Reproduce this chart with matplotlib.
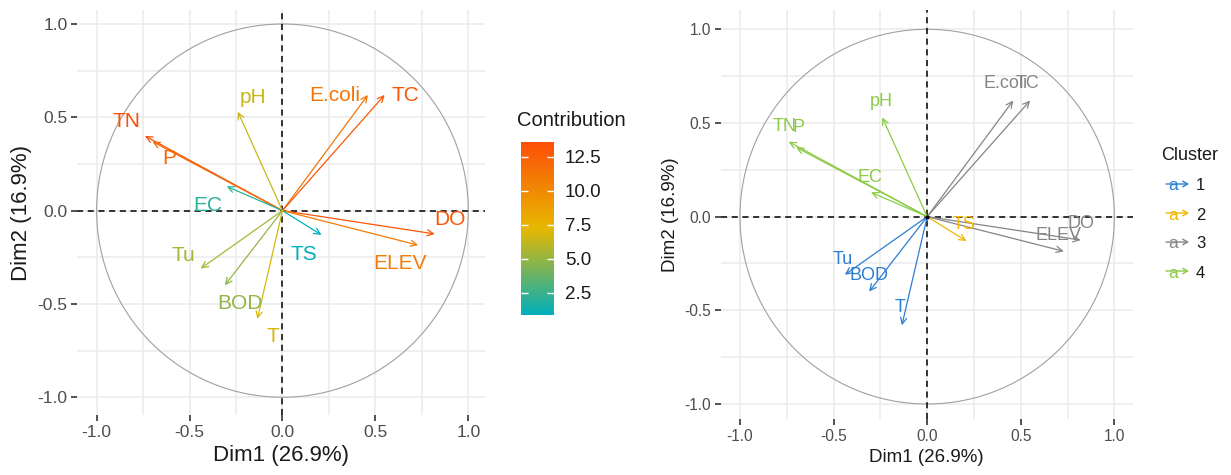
import matplotlib
matplotlib.use("Agg")
import matplotlib.pyplot as plt
import numpy as np
from matplotlib.colors import LinearSegmentedColormap, Normalize
from matplotlib.cm import ScalarMappable
from matplotlib.patches import Circle

plt.rcParams['font.family'] = ['Liberation Sans', 'DejaVu Sans']

# variable coordinates on Dim1 / Dim2
variables = ['TN', 'P', 'pH', 'E.coli', 'TC', 'EC', 'DO', 'ELEV', 'TS', 'Tu', 'BOD', 'T']
dim1 = [-0.74, -0.70, -0.24, 0.46, 0.55, -0.30, 0.82, 0.73, 0.21, -0.44, -0.31, -0.135]
dim2 = [0.40, 0.37, 0.53, 0.62, 0.62, 0.13, -0.125, -0.185, -0.13, -0.31, -0.40, -0.58]
contrib = [13.6, 11.9, 6.4, 11.3, 13.1, 2.0, 13.1, 10.8, 0.85, 5.5, 4.9, 6.8]
cluster = ['4', '4', '4', '3', '3', '4', '3', '3', '2', '1', '1', '1']

cluster_names = ['1', '2', '3', '4']
cluster_colors = ['#2a7fd4', '#f0b800', '#858585', '#8ccb48']

# label placement (data coords) for each panel
left_lab = {'TN': (-0.84, 0.475), 'P': (-0.61, 0.28), 'pH': (-0.16, 0.605),
            'E.coli': (0.28, 0.618), 'TC': (0.66, 0.615), 'EC': (-0.40, 0.03),
            'DO': (0.90, -0.045), 'TS': (0.115, -0.233), 'ELEV': (0.63, -0.283),
            'Tu': (-0.535, -0.238), 'BOD': (-0.23, -0.496), 'T': (-0.054, -0.672)}
right_lab = {'TN': (-0.76, 0.48), 'P': (-0.69, 0.475), 'pH': (-0.245, 0.615),
             'E.coli': (0.42, 0.71), 'TC': (0.535, 0.71), 'EC': (-0.305, 0.21),
             'DO': (0.82, -0.035), 'TS': (0.195, -0.044), 'ELEV': (0.70, -0.10),
             'Tu': (-0.45, -0.227), 'BOD': (-0.31, -0.316), 'T': (-0.145, -0.483)}

W, H = 1231, 475
fig = plt.figure(figsize=(W / 100, H / 100), dpi=100)


def px_axes(x0, y0, x1, y1):
    return fig.add_axes([x0 / W, 1 - y1 / H, (x1 - x0) / W, (y1 - y0) / H])


def setup(ax, xlim, ylim, tick_fs, title_fs):
    ax.set_xlim(*xlim)
    ax.set_ylim(*ylim)
    ticks = [-1.0, -0.5, 0.0, 0.5, 1.0]
    ax.set_xticks(ticks)
    ax.set_yticks(ticks)
    ax.set_xticklabels(['%.1f' % t for t in ticks])
    ax.set_yticklabels(['%.1f' % t for t in ticks])
    ax.set_xticks([-0.75, -0.25, 0.25, 0.75], minor=True)
    ax.set_yticks([-0.75, -0.25, 0.25, 0.75], minor=True)
    ax.grid(which='major', color='#ebebeb', lw=1.1)
    ax.grid(which='minor', color='#ebebeb', lw=1.1)
    ax.set_axisbelow(True)
    for s in ax.spines.values():
        s.set_visible(False)
    ax.tick_params(which='major', length=4, width=1.2, color='#333333',
                   labelcolor='#4d4d4d', labelsize=tick_fs, pad=3)
    ax.tick_params(which='minor', length=0)
    ax.set_xlabel('Dim1 (26.9%)', fontsize=title_fs, color='#1a1a1a', labelpad=4)
    ax.set_ylabel('Dim2 (16.9%)', fontsize=title_fs, color='#1a1a1a', labelpad=4)
    ax.add_patch(Circle((0, 0), 1, fill=False, ec='#a0a0a0', lw=0.8, zorder=1))
    ax.axhline(0, color='black', ls=(0, (4, 3)), lw=1.1, zorder=2)
    ax.axvline(0, color='black', ls=(0, (4, 3)), lw=1.1, zorder=2)


# ---- left panel: contribution colours ----
cmap = LinearSegmentedColormap.from_list('contrib', ['#00AFBB', '#E7B800', '#FC4E07'])
norm = Normalize(vmin=min(contrib), vmax=max(contrib))

ax1 = px_axes(77.3, 10, 485, 415)
setup(ax1, (-1.104, 1.09), (-1.095, 1.075), 12.5, 16)
for name, x, y, c in zip(variables, dim1, dim2, contrib):
    col = cmap(norm(c))
    ax1.annotate('', xy=(x, y), xytext=(0, 0),
                 arrowprops=dict(arrowstyle='->,head_length=0.45,head_width=0.22',
                                 color=col, lw=0.9, shrinkA=0, shrinkB=0), zorder=3)
    lx, ly = left_lab[name]
    ax1.text(lx, ly, name, color=col, fontsize=15, ha='center', va='center', zorder=4)

cax = px_axes(520.7, 141.7, 554, 315)
cb = fig.colorbar(ScalarMappable(norm=norm, cmap=cmap), cax=cax)
cb.outline.set_visible(False)
cb.set_ticks([2.5, 5.0, 7.5, 10.0, 12.5])
cb.set_ticklabels(['2.5', '5.0', '7.5', '10.0', '12.5'])
cax.tick_params(direction='in', color='white', length=5, width=1, left=True,
                right=True, labelsize=13.5, labelcolor='#1a1a1a', pad=8)
fig.text(517 / W, 1 - 121 / H, 'Contribution', fontsize=14.5, color='#1a1a1a',
         ha='left', va='center')

# ---- right panel: cluster colours ----
ax2 = px_axes(720.7, 10, 1132.7, 419)
setup(ax2, (-1.103, 1.098), (-1.08, 1.103), 11.2, 13.5)
for name, x, y, k in zip(variables, dim1, dim2, cluster):
    col = cluster_colors[cluster_names.index(k)]
    ax2.annotate('', xy=(x, y), xytext=(0, 0),
                 arrowprops=dict(arrowstyle='->,head_length=0.45,head_width=0.22',
                                 color=col, lw=0.9, shrinkA=0, shrinkB=0), zorder=3)
    lx, ly = right_lab[name]
    ax2.text(lx, ly, name, color=col, fontsize=13, ha='center', va='center', zorder=4)
ax2.plot([0], [0], 'o', color='black', ms=2, zorder=5)

# cluster legend
lg = px_axes(1155, 140, 1231, 290)
lg.set_xlim(0, 76)
lg.set_ylim(150, 0)
lg.axis('off')
lg.text(6, 15, 'Cluster', fontsize=13, color='#1a1a1a', ha='left', va='center')
for i, (nm, col) in enumerate(zip(cluster_names, cluster_colors)):
    yy = 46 + i * 29
    lg.annotate('', xy=(34, yy - 2), xytext=(11, yy - 2),
                arrowprops=dict(arrowstyle='->,head_length=0.35,head_width=0.2',
                                color=col, lw=1.0, shrinkA=0, shrinkB=0))
    lg.text(18, yy, 'a', color=col, fontsize=12.5, ha='center', va='center')
    lg.text(41, yy, nm, color='#1a1a1a', fontsize=12, ha='left', va='center')

fig.savefig('out.png', dpi=100)
